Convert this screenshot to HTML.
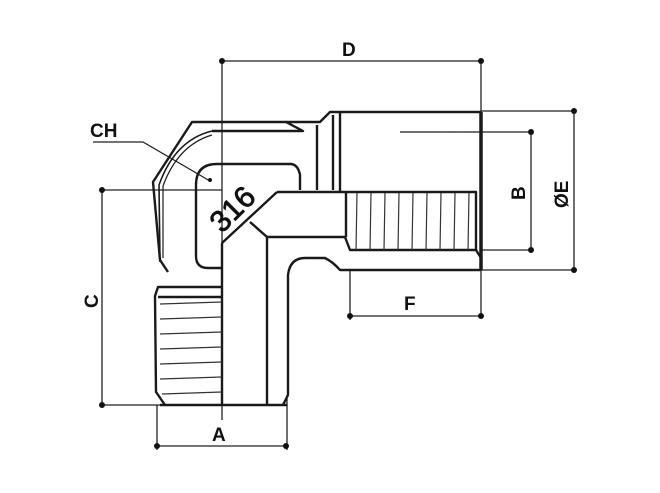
<!DOCTYPE html>
<html><head><style>body{margin:0;background:#fff}svg{display:block}text{font-family:"Liberation Sans",sans-serif;font-weight:bold;fill:#111}</style></head>
<body>
<svg width="660" height="493" viewBox="0 0 660 493" xmlns="http://www.w3.org/2000/svg">
<g stroke="#222" fill="none" stroke-width="1.3">
<line x1="222" y1="61" x2="481" y2="61"/>
<line x1="222" y1="61" x2="222" y2="420"/>
<line x1="481" y1="61" x2="481" y2="316"/>
<line x1="102" y1="190" x2="102" y2="405"/>
<line x1="102" y1="190" x2="222" y2="190"/>
<line x1="102" y1="405" x2="160" y2="405"/>
<line x1="157" y1="405" x2="157" y2="450"/>
<line x1="287" y1="395" x2="287" y2="450"/>
<line x1="157" y1="446" x2="287" y2="446"/>
<line x1="350" y1="270" x2="350" y2="320"/>
<line x1="350" y1="316" x2="481" y2="316"/>
<line x1="400" y1="132" x2="531" y2="132"/>
<line x1="481" y1="250" x2="531" y2="250"/>
<line x1="531" y1="132" x2="531" y2="250"/>
<line x1="481" y1="111" x2="574" y2="111"/>
<line x1="481" y1="270" x2="574" y2="270"/>
<line x1="574" y1="111" x2="574" y2="270"/>
<polyline points="93,142 143,142 210,181"/>
</g>
<g fill="#111">
<circle cx="222" cy="61" r="3"/><circle cx="481" cy="61" r="3"/>
<circle cx="102" cy="190" r="3"/><circle cx="102" cy="405" r="3"/>
<circle cx="157" cy="446" r="3"/><circle cx="286" cy="446" r="3"/>
<circle cx="350" cy="316" r="3"/><circle cx="481" cy="316" r="3"/>
<circle cx="531" cy="132" r="3"/><circle cx="531" cy="250" r="3"/>
<circle cx="574" cy="111" r="3"/><circle cx="574" cy="270" r="3"/>
<circle cx="210" cy="180" r="2"/>
</g>
<g stroke="#1a1a1a" fill="none" stroke-width="2.4" stroke-linejoin="round">
<polyline points="168,272 160,260 153,182 192,122 286,122 303,131 212,131"/>
<path d="M160,262 L159,185 Q175,140 212,131" stroke-width="1.6"/>
<path d="M163,258 L163,186 Q178,145 212,135" stroke-width="1.2"/>
<path d="M222,268 L208,268 Q196,268 196,256 L196,185 Q196,164 217,164 L290,164 Q298,164 300,175 L300,190"/>
<path d="M286,122 L320,122 L330,112 L481,112"/>
<line x1="317" y1="125" x2="317" y2="190"/>
<line x1="333" y1="115" x2="333" y2="190"/>
<line x1="340" y1="112" x2="340" y2="192"/>
<line x1="481" y1="112" x2="481" y2="270" stroke-width="3.5"/>
<line x1="400" y1="132" x2="440" y2="132" stroke-width="1"/>
<line x1="448" y1="132" x2="454" y2="132" stroke-width="1"/>
<line x1="462" y1="132" x2="481" y2="132" stroke-width="1"/>
<polyline points="277,192 476,192 476,250"/>
<polyline points="267,237 345,237 350,250 476,250 481,258"/>
<line x1="346" y1="192" x2="346" y2="237"/>
<path d="M283,405 L288,395 L288,275 Q290,258 305,258 L325,258 Q333,262 340,270 L481,270"/>
<line x1="277" y1="192" x2="222" y2="243"/>
<line x1="250" y1="222" x2="267" y2="237"/>
<line x1="267" y1="237" x2="267" y2="405"/>
<line x1="160" y1="405" x2="287" y2="405"/>
<line x1="222" y1="243" x2="222" y2="405"/>
<polyline points="222,287 158,287 155,296 156,392 165,405"/>
<line x1="158" y1="297" x2="222" y2="297"/>
</g>
<g stroke="#333" stroke-width="1.2">
<line x1="160" y1="304" x2="222" y2="302"/>
<line x1="160" y1="319" x2="222" y2="317"/>
<line x1="160" y1="334" x2="222" y2="332"/>
<line x1="160" y1="349" x2="222" y2="347"/>
<line x1="160" y1="364" x2="222" y2="362"/>
<line x1="160" y1="379" x2="222" y2="377"/>
<line x1="162" y1="394" x2="222" y2="392"/>
<line x1="357" y1="193" x2="356" y2="250"/><line x1="371" y1="193" x2="370" y2="250"/>
<line x1="385" y1="193" x2="384" y2="250"/><line x1="399" y1="193" x2="398" y2="250"/>
<line x1="413" y1="193" x2="412" y2="250"/><line x1="427" y1="193" x2="426" y2="250"/>
<line x1="441" y1="193" x2="440" y2="250"/><line x1="455" y1="193" x2="454" y2="250"/>
<line x1="469" y1="193" x2="468" y2="250"/>
</g>
<text font-size="30" style="font-weight:normal" stroke="#111" stroke-width="0.8" transform="translate(222,234) rotate(-45)">316</text>
<text x="90" y="137" font-size="19">CH</text>
<text x="342" y="56" font-size="19">D</text>
<text x="404" y="310" font-size="19">F</text>
<text x="212" y="441" font-size="19">A</text>
<text font-size="19" transform="translate(98,308) rotate(-90)">C</text>
<text font-size="19" transform="translate(525,200) rotate(-90)">B</text>
<text font-size="19" transform="translate(568,208) rotate(-90)">ØE</text>
</svg>
</body></html>
